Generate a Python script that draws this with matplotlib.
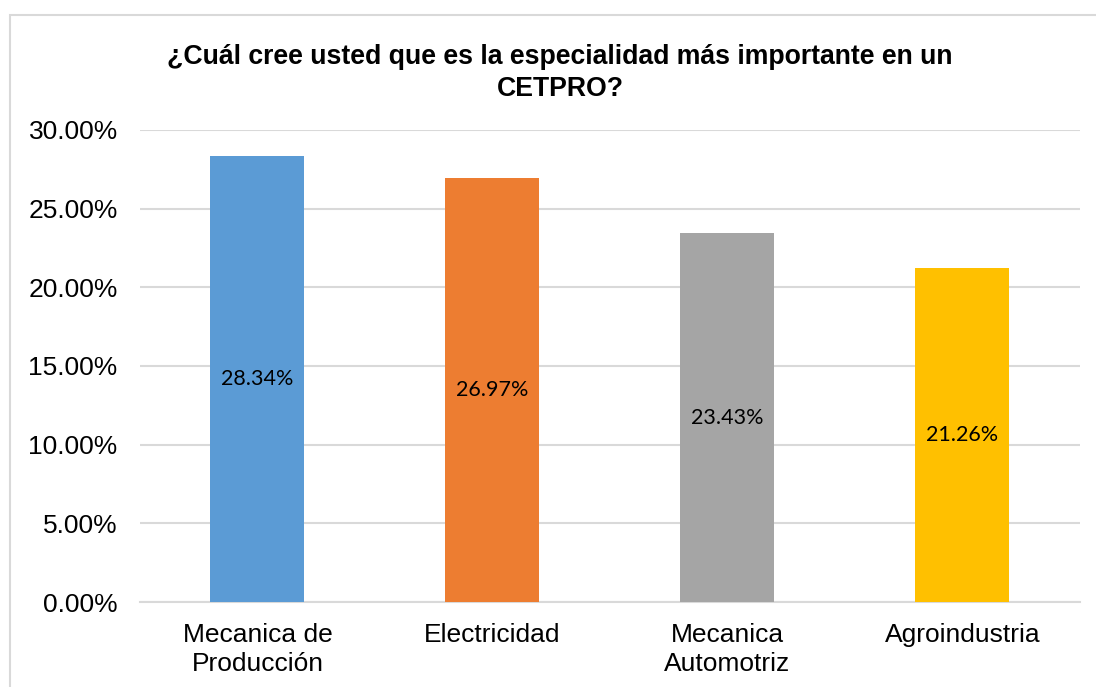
import matplotlib.pyplot as plt
from matplotlib.patches import Rectangle
from matplotlib.ticker import FuncFormatter

# datos
categorias = ["Mecanica de\nProducción", "Electricidad", "Mecanica\nAutomotriz", "Agroindustria"]
porcentajes = [0.2834, 0.2697, 0.2343, 0.2126]
etiquetas = ["28.34%", "26.97%", "23.43%", "21.26%"]
colores = ["#5B9BD5", "#ED7D31", "#A5A5A5", "#FFC000"]
titulo = "¿Cuál cree usted que es la especialidad más importante en un\nCETPRO?"

plt.rcParams['font.family'] = ['Liberation Sans', 'DejaVu Sans']

fig = plt.figure(figsize=(10.96, 6.87), dpi=100)
ax = fig.add_axes([0.1277, 0.1237, 0.8577, 0.6871])

x = range(len(categorias))
barras = ax.bar(x, porcentajes, width=0.4, color=colores, zorder=3)

for b, txt in zip(barras, etiquetas):
    ax.text(b.get_x() + b.get_width()/2, b.get_height()/2, txt,
            ha='center', va='center', fontsize=15.5, family=['Lato', 'DejaVu Sans'],
            color='#000000', zorder=4)

ax.set_xlim(-0.5, len(categorias) - 0.5)
ax.set_ylim(0, 0.30)
ax.set_yticks([0, 0.05, 0.10, 0.15, 0.20, 0.25, 0.30])
ax.yaxis.set_major_formatter(FuncFormatter(lambda v, p: "%.2f%%" % (v*100)))
ax.set_xticks(list(x))
ax.set_xticklabels(categorias)
ax.tick_params(axis='y', length=0, pad=16, labelsize=19, labelcolor='#000000')
ax.tick_params(axis='x', length=0, pad=15, labelsize=19, labelcolor='#000000')
for lbl in ax.get_xticklabels():
    lbl.set_linespacing(1.27)

ax.grid(axis='y', color='#D9D9D9', linewidth=1.5, zorder=0)
for s in ['top', 'right', 'left']:
    ax.spines[s].set_visible(False)
ax.spines['bottom'].set_color('#D9D9D9')
ax.spines['bottom'].set_linewidth(1.5)

fig.text(0.511, 0.936, titulo, ha='center', va='top', fontsize=19.2,
         fontweight='bold', linespacing=1.32)

# borde del area del grafico
borde = Rectangle((10/1096, -0.5), 2, 0.5 + (1 - 15/687), transform=fig.transFigure,
                  fill=False, edgecolor='#D9D9D9', linewidth=1.5, clip_on=False)
fig.patches.append(borde)

fig.savefig("out.png", dpi=100)
